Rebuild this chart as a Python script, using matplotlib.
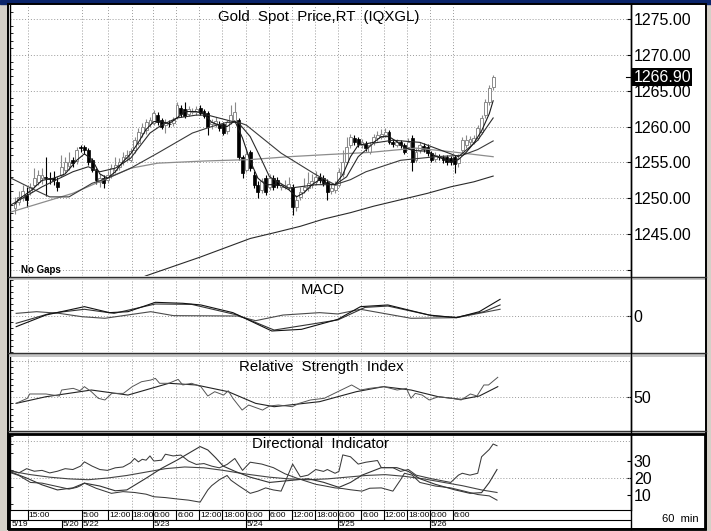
import matplotlib
matplotlib.use('Agg')
import matplotlib.pyplot as plt
from matplotlib.patches import Rectangle
from matplotlib.ticker import MultipleLocator
from matplotlib.transforms import blended_transform_factory

W, H = 711, 531

plt.rcParams['font.family'] = ['Liberation Sans', 'DejaVu Sans']
NARROW = ['Liberation Sans Narrow', 'Liberation Sans', 'DejaVu Sans']

# ---------------- hourly OHLC, Gold spot ----------------
opens = [1248.6, 1249.5, 1250.0, 1250.5, 1250.9, 1251.9, 1252.3, 1252.8, 1253.0, 1252.9,
         1252.9, 1252.3, 1253.3, 1254.0, 1254.5, 1255.3, 1255.2, 1257.2, 1257.2, 1256.7,
         1255.3, 1253.9, 1252.3, 1252.8, 1252.6, 1253.3, 1253.9, 1254.4, 1255.1, 1255.6,
         1255.4, 1256.7, 1257.7, 1259.1, 1259.5, 1260.4, 1260.5, 1261.6, 1260.9, 1260.2,
         1260.4, 1260.5, 1261.3, 1262.6, 1262.4, 1261.8, 1262.0, 1262.0, 1262.6, 1262.2,
         1261.9, 1260.4, 1260.4, 1260.4, 1260.3, 1259.4, 1260.6, 1260.8, 1260.9, 1255.8,
         1254.0, 1256.5, 1253.3, 1251.9, 1251.2, 1252.8, 1251.6, 1252.8, 1252.6, 1251.6,
         1251.6, 1251.6, 1251.6, 1248.8, 1250.2, 1251.2, 1251.4, 1251.8, 1252.3, 1253.0,
         1252.8, 1252.3, 1251.0, 1251.2, 1251.9, 1253.4, 1255.1, 1257.4, 1258.4, 1258.2,
         1257.4, 1257.6, 1256.5, 1257.9, 1258.4, 1258.6, 1258.8, 1259.2, 1257.9, 1257.5,
         1257.8, 1257.4, 1257.2, 1258.4, 1255.4, 1256.7, 1257.3, 1257.2, 1256.3, 1255.5,
         1255.9, 1255.7, 1255.7, 1255.6, 1255.7, 1254.9, 1256.7, 1257.4, 1257.8, 1257.9,
         1258.4, 1259.2, 1261.6, 1263.4, 1265.5]
closes = [1249.4, 1250.2, 1251.0, 1249.8, 1251.6, 1252.8, 1253.3, 1253.2, 1252.8, 1252.7,
          1252.6, 1251.6, 1254.4, 1255.0, 1255.0, 1254.9, 1256.8, 1257.0, 1256.8, 1255.0,
          1254.0, 1252.6, 1252.8, 1252.1, 1253.2, 1254.2, 1254.6, 1255.0, 1255.8, 1256.0,
          1256.6, 1258.1, 1259.2, 1260.0, 1260.6, 1260.9, 1261.9, 1260.6, 1260.0, 1260.5,
          1260.3, 1260.9, 1263.0, 1261.8, 1261.5, 1262.4, 1262.2, 1262.4, 1261.9, 1261.5,
          1260.0, 1260.7, 1260.8, 1259.8, 1259.1, 1260.6, 1261.6, 1262.0, 1255.8, 1253.5,
          1256.2, 1254.2, 1251.9, 1250.9, 1252.4, 1250.9, 1252.8, 1251.6, 1251.8, 1251.8,
          1251.9, 1252.0, 1248.8, 1249.8, 1250.9, 1251.6, 1252.1, 1252.4, 1253.0, 1252.6,
          1252.1, 1250.9, 1251.5, 1251.9, 1253.7, 1255.1, 1257.2, 1258.5, 1257.9, 1257.6,
          1257.8, 1257.0, 1257.4, 1258.6, 1258.8, 1259.0, 1259.3, 1257.9, 1257.6, 1257.9,
          1257.4, 1256.5, 1257.9, 1255.0, 1256.5, 1257.5, 1256.9, 1256.3, 1255.4, 1256.0,
          1255.7, 1255.3, 1255.0, 1255.1, 1254.8, 1255.6, 1258.1, 1258.1, 1258.3, 1258.4,
          1259.8, 1261.2, 1263.4, 1265.4, 1266.9]
highs = [1250.2, 1251.0, 1251.9, 1251.6, 1252.2, 1254.2, 1254.0, 1254.2, 1255.8, 1253.6,
         1253.8, 1253.0, 1256.0, 1255.8, 1256.5, 1255.8, 1257.2, 1257.4, 1257.5, 1257.0,
         1255.6, 1254.2, 1253.4, 1253.2, 1253.8, 1254.8, 1255.8, 1255.6, 1256.5, 1256.8,
         1257.0, 1258.5, 1259.8, 1260.5, 1261.0, 1261.4, 1262.3, 1262.0, 1261.2, 1261.0,
         1260.9, 1261.4, 1263.4, 1263.0, 1263.4, 1262.8, 1262.6, 1262.8, 1263.0, 1262.5,
         1262.2, 1261.0, 1261.3, 1260.8, 1260.6, 1260.9, 1263.0, 1263.4, 1261.2, 1256.0,
         1257.0, 1256.8, 1253.8, 1252.4, 1252.9, 1253.2, 1253.4, 1253.3, 1253.0, 1252.2,
         1252.6, 1253.0, 1252.0, 1250.4, 1251.6, 1252.8, 1253.6, 1253.4, 1253.8, 1253.5,
         1253.2, 1252.7, 1252.0, 1252.4, 1254.2, 1256.8, 1258.6, 1259.0, 1258.8, 1258.6,
         1258.2, 1258.0, 1257.8, 1259.0, 1259.4, 1259.6, 1259.8, 1259.5, 1258.2, 1258.3,
         1258.1, 1257.7, 1258.4, 1258.8, 1257.0, 1257.9, 1257.7, 1257.6, 1256.6, 1256.4,
         1256.2, 1256.0, 1256.0, 1255.9, 1256.0, 1256.2, 1258.5, 1258.8, 1258.7, 1258.8,
         1260.2, 1261.6, 1263.8, 1265.8, 1267.2]
lows = [1247.8, 1249.0, 1249.6, 1248.8, 1250.4, 1251.4, 1251.8, 1252.0, 1250.3, 1252.0,
        1251.9, 1251.0, 1253.0, 1253.5, 1254.0, 1254.4, 1254.8, 1256.4, 1256.2, 1254.6,
        1253.6, 1252.0, 1251.6, 1251.5, 1252.2, 1252.9, 1253.5, 1254.0, 1254.7, 1255.2,
        1255.0, 1256.3, 1257.4, 1258.6, 1259.0, 1260.0, 1260.2, 1260.2, 1259.6, 1259.1,
        1259.9, 1260.1, 1261.0, 1261.4, 1261.2, 1261.5, 1261.8, 1261.6, 1261.6, 1261.2,
        1258.8, 1259.6, 1259.9, 1259.4, 1258.8, 1259.0, 1260.3, 1260.5, 1255.4, 1252.8,
        1253.6, 1253.8, 1251.4, 1250.0, 1250.8, 1250.5, 1251.2, 1251.2, 1251.4, 1251.2,
        1251.3, 1251.2, 1247.7, 1248.2, 1249.8, 1250.8, 1251.0, 1251.4, 1251.9, 1252.2,
        1251.7, 1249.8, 1250.6, 1250.8, 1251.6, 1253.0, 1254.8, 1257.0, 1257.4, 1257.2,
        1257.0, 1256.6, 1256.2, 1257.5, 1258.0, 1258.2, 1258.5, 1257.6, 1257.2, 1257.2,
        1257.0, 1256.2, 1256.9, 1253.8, 1255.0, 1256.3, 1256.5, 1255.9, 1255.0, 1255.1,
        1255.3, 1254.9, 1254.7, 1254.6, 1253.5, 1254.4, 1256.3, 1257.0, 1257.5, 1257.6,
        1258.1, 1258.9, 1261.2, 1263.0, 1265.1]

# moving averages (bar index, price)
ma1_pos = [0, 1, 4, 7, 10, 13, 16, 18, 20, 22, 24, 26, 28, 30, 32, 34, 36, 38, 40, 42,
           44, 47, 49, 51, 53, 55, 57, 59, 61, 63, 65, 67, 69, 71, 73, 75, 77, 79, 81, 83,
           85, 87, 89, 91, 93, 95, 97, 99, 101, 103, 105, 107, 109, 111, 113, 115, 117, 119, 121, 123, 124]
ma1_val = [1249.2, 1249.9, 1251.0, 1252.5, 1252.8, 1253.4, 1255.3, 1256.2, 1255.4, 1253.4,
           1252.8, 1253.7, 1255.1, 1256.2, 1257.8, 1259.6, 1260.7, 1260.7, 1260.4, 1261.2,
           1262.1, 1262.1, 1261.8, 1260.6, 1260.2, 1260.0, 1260.8, 1258.4, 1255.2, 1252.8,
           1251.9, 1251.9, 1251.8, 1251.2, 1250.2, 1250.8, 1251.9, 1252.6, 1252.0, 1251.9,
           1253.3, 1255.8, 1257.4, 1257.6, 1257.8, 1258.6, 1258.6, 1257.9, 1257.1, 1256.7,
           1256.6, 1256.6, 1255.9, 1255.5, 1255.1, 1255.4, 1256.4, 1257.7, 1259.4, 1261.8, 1263.6]
ma2_pos = [-1, 7, 15, 19, 22, 26, 30, 35, 38, 42, 47, 50, 55, 58, 61, 64, 66, 71, 78, 83,
           86, 89, 93, 98, 105, 109, 115, 120, 124]
ma2_val = [1249.1, 1251.6, 1253.7, 1254.4, 1253.7, 1254.2, 1255.6, 1259.1, 1260.2, 1261.2,
           1261.6, 1261.6, 1260.9, 1260.5, 1258.6, 1255.3, 1253.0, 1251.4, 1251.9, 1251.9,
           1253.0, 1255.8, 1257.7, 1258.1, 1257.8, 1257.0, 1255.8, 1258.1, 1261.2]
ma3_pos = [-1, 5, 9, 14, 20, 24, 30, 37, 46, 51, 55, 58, 60, 69, 78, 83, 87, 91, 100, 109,
           116, 120, 124]
ma3_val = [1252.8, 1251.2, 1250.2, 1250.2, 1252.1, 1252.8, 1254.2, 1256.3, 1259.1, 1260.0,
           1260.6, 1260.6, 1260.2, 1256.3, 1253.3, 1251.9, 1252.6, 1253.7, 1255.3, 1255.8,
           1256.0, 1256.8, 1258.0]
ma4_pos = [-1, 15, 30, 37, 49, 61, 71, 81, 92, 104, 113, 124]
ma4_val = [1248.1, 1250.7, 1254.2, 1254.9, 1255.2, 1255.4, 1255.8, 1256.1, 1256.4, 1257.0,
           1256.5, 1255.8]
ma5_pos = [27, 34, 41, 48, 55, 61, 68, 74, 80, 87, 93, 100, 107, 113, 119, 124]
ma5_val = [1237.6, 1239.2, 1240.5, 1241.8, 1243.2, 1244.4, 1245.3, 1246.1, 1247.1, 1248.0,
           1248.9, 1249.8, 1250.7, 1251.6, 1252.3, 1253.1]

# MACD
macd_pos = [0.3, 8.0, 18.0, 24.5, 29.3, 36.4, 43.5, 48.2, 56.5, 66.6, 74.3, 83.7, 89.6,
            96.7, 107.4, 114.5, 120.4, 125.8]
macd_val = [-0.89, 0.08, 0.78, 0.28, 0.36, 1.14, 1.06, 0.92, 0.28, -1.25, -1.11, -0.28,
            0.78, 0.92, 0.08, -0.14, 0.36, 1.39]
signal_pos = [0.3, 9.1, 18.0, 25.7, 36.4, 45.8, 57.7, 67.2, 83.7, 90.8, 96.7, 108.6,
              114.5, 121.6, 125.8]
signal_val = [-0.61, 0.22, 0.56, 0.22, 1.0, 0.97, 0.08, -1.17, -0.33, 0.72, 0.83, 0.0,
              -0.11, 0.36, 0.92]
macd3_pos = [0.3, 5.6, 11.5, 17.4, 23.3, 35.2, 41.1, 57.7, 62.4, 69.5, 79.0, 83.7, 89.6,
             102.7, 114.5, 125.8]
macd3_val = [0.22, 0.36, 0.22, -0.06, -0.19, 0.36, 0.03, 0.0, -0.39, 0.08, 0.28, 0.17,
             0.56, -0.19, -0.14, 0.56]

# RSI
rsi_pos = [0.3, 3.2, 3.8, 8.0, 11.5, 12.1, 15.1, 16.8, 18.0, 19.8, 21.6, 23.3, 25.1, 28.1,
           30.4, 32.8, 35.2, 36.4, 37.5, 39.9, 42.3, 43.5, 45.8, 48.2, 50.0, 51.8, 54.1, 55.3,
           56.5, 58.9, 60.6, 64.2, 66.0, 68.3, 71.9, 73.7, 76.6, 80.2, 83.7, 87.3, 89.6, 92.0,
           95.6, 99.1, 101.5, 102.7, 103.8, 105.6, 107.4, 109.8, 113.3, 115.7, 118.1, 119.8,
           121.6, 122.8, 125.2]
rsi_val = [44.7, 48.9, 52.5, 52.5, 50.8, 55.8, 57.2, 55.2, 58.6, 54.4, 48.9, 47.5, 53.0,
           53.0, 58.6, 62.7, 64.1, 65.5, 61.4, 61.4, 64.7, 60.0, 61.4, 58.6, 50.8, 54.4, 51.6,
           55.2, 48.9, 39.1, 43.3, 39.1, 42.5, 43.3, 41.9, 44.7, 47.5, 48.9, 54.4, 60.0, 55.8,
           57.2, 58.6, 55.8, 57.2, 48.9, 53.0, 51.6, 47.5, 50.2, 48.9, 47.5, 52.5, 50.8, 60.0,
           60.0, 66.4]
rsi_ma_pos = [0.3, 8.0, 19.8, 29.3, 39.9, 47.0, 55.3, 62.4, 67.2, 79.0, 88.5, 95.6, 102.7,
              109.8, 115.7, 120.4, 125.2]
rsi_ma_val = [44.7, 50.2, 55.8, 51.6, 61.4, 60.0, 54.4, 44.7, 41.9, 46.1, 54.4, 58.6, 55.8,
              50.2, 48.0, 50.8, 58.6]

# Directional indicator
dia_pos = [-1, 1, 3, 5, 7, 9, 11, 13, 15, 17, 18, 20, 22, 24, 26, 28, 30, 31, 32, 33,
           34, 35, 36, 38, 39, 41, 43, 45, 47, 49, 51, 53, 55, 57, 58, 59, 61, 64, 67, 70,
           73, 75, 78, 80, 83, 85, 87, 90, 92, 95, 98, 100, 101, 103, 105, 109, 113, 117, 120, 123, 125]
dia_val = [24.5, 23, 25.5, 24, 24.5, 23, 24, 25.5, 25, 27, 29.5, 27, 25, 24.5, 26, 26.5,
           29, 31.5, 29.5, 31, 30.5, 33, 30, 30.5, 34, 33, 33.5, 30, 28, 28.5, 27, 26, 28,
           31.5, 28, 24.5, 29.3, 28.2, 26.1, 22.5, 20, 18.5, 16.3, 15.5, 14.2, 13.8, 13.1,
           12.3, 14, 14.2, 12.3, 19, 22.8, 21.7, 17.4, 15.3, 14.2, 12, 10.3, 9.5, 7]
dib_pos = [-1, 1, 4, 7, 10, 12, 14, 16, 17, 18, 21, 25, 28, 31, 34, 36, 39, 42, 45, 48,
           50, 51, 53, 55, 56, 58, 61, 63, 65, 67, 69, 70, 72, 74, 76, 78, 80, 81, 83, 84,
           85, 87, 89, 91, 94, 95, 98, 100, 102, 104, 108, 113, 115, 116, 118, 120, 121, 123, 124, 125]
dib_val = [23, 21.5, 17.4, 17, 15.5, 14.5, 13.5, 14.5, 15.5, 17, 14, 11, 12, 11.5, 10.5,
           9, 8.5, 7.7, 7, 5.8, 13, 15.5, 19, 21.5, 18.7, 15.5, 11, 12.3, 14.2, 13, 12.3,
           17.4, 28.2, 20.7, 21.7, 25, 23.9, 25, 22.8, 23.9, 33.6, 32.5, 28.2, 29.3, 30.3,
           26.1, 26.1, 23.9, 25, 21.7, 19.6, 17.4, 21.7, 22.8, 21.7, 22.8, 32.5, 36.8, 40, 39]
adx_pos = [-1, 3, 7, 11, 15, 18, 22, 26, 29, 34, 38, 42, 45, 48, 50, 52, 54, 57, 61, 66,
           71, 76, 80, 84, 87, 90, 95, 99, 102, 105, 109, 114, 118, 121, 123, 125]
adx_val = [23.5, 20, 16, 13, 14.2, 17, 15.3, 12.5, 13, 19.9, 25.7, 30.5, 34.5, 38.5, 36.5,
           32, 27, 24, 20.5, 17.4, 18.5, 19.6, 17.5, 14.5, 17.4, 21.7, 26.1, 26.1, 23.9,
           19.6, 16.3, 13.1, 11, 11.4, 17.4, 25]
adxr_pos = [-1, 4, 9, 14, 19, 24, 29, 34, 39, 44, 49, 54, 58, 61, 66, 71, 76, 81, 86, 91,
            96, 101, 106, 111, 116, 121, 125]
adxr_val = [24, 22, 20.5, 19.5, 19, 20, 21.5, 23.5, 25.5, 26.5, 26, 24.5, 23, 22, 20.5,
            19.5, 19, 19.5, 20.5, 21.5, 22, 21, 19.5, 17.5, 15.5, 13, 11.5]

# time axis
time_pos = [3.3, 17.3, 24.1, 30.3, 35.8, 41.8, 47.8, 53.8, 59.8, 65.8, 71.8, 77.8, 83.8,
            89.8, 95.6, 101.7, 107.6, 113.6]
time_labels = ['15:00', '5:00', '12:00', '18:00', '0:00', '6:00', '12:00', '18:00', '0:00',
               '6:00', '12:00', '18:00', '0:00', '6:00', '12:00', '18:00', '0:00', '6:00']
date_pos = [-1.0, 12.2, 17.3, 35.8, 59.8, 83.8, 107.6]
date_labels = ['5/19', '5/20', '5/22', '5/23', '5/24', '5/25', '5/26']

price_ticks = [1240, 1245, 1250, 1255, 1260, 1265, 1270, 1275]
last_price = 1266.90

XLIM = (-1.3, 159.75)
GRID = dict(color='#9a9a9a', linestyle=(0, (1, 2)), linewidth=0.7)


def px_rect(x0, y0, x1, y1):
	return [x0 / W, 1 - y1 / H, (x1 - x0) / W, (y1 - y0) / H]


def setup(ax, ylim):
	ax.set_xlim(*XLIM)
	ax.set_ylim(*ylim)
	ax.patch.set_visible(False)
	for s in ('top', 'bottom'):
		ax.spines[s].set_visible(False)
	for s in ('left', 'right'):
		ax.spines[s].set_color('black')
		ax.spines[s].set_linewidth(1.0)
	ax.set_xticks(time_pos)
	ax.tick_params(axis='x', length=0, labelbottom=False)
	ax.grid(True, axis='x', **GRID)
	ax.yaxis.tick_right()
	ax.tick_params(axis='y', which='major', direction='in', length=3, pad=2,
	               labelsize=11.5, colors='black')
	ax.tick_params(axis='y', which='minor', left=True, right=False, direction='in', length=2)


fig = plt.figure(figsize=(W / 100, H / 100), dpi=100, facecolor='#d4d0c8')

bg = fig.add_axes([0, 0, 1, 1], zorder=0)
bg.set_xlim(0, W)
bg.set_ylim(H, 0)
bg.axis('off')
bg.add_patch(Rectangle((0, 0), W, 4, color='#0a246a'))
bg.add_patch(Rectangle((8, 4), 698, 525, facecolor='white', edgecolor='none'))

# ---------------- price panel ----------------
ax_p = fig.add_axes(px_rect(10, 5, 631, 276), zorder=2)
setup(ax_p, (1239.17, 1276.95))
ax_p.set_yticks(price_ticks)
ax_p.set_yticklabels([''] + ['%.2f' % v for v in price_ticks[1:]])
ax_p.yaxis.set_minor_locator(MultipleLocator(1))
ax_p.grid(True, axis='y', **GRID)

idx = list(range(len(closes)))
up = [i for i in idx if closes[i] >= opens[i]]
dn = [i for i in idx if closes[i] < opens[i]]
ax_p.vlines(up, [lows[i] for i in up], [highs[i] for i in up], color='#8a8a8a', lw=0.8, zorder=3)
ax_p.vlines(dn, [lows[i] for i in dn], [highs[i] for i in dn], color='black', lw=0.8, zorder=3)
ax_p.bar(up, [closes[i] - opens[i] for i in up], bottom=[opens[i] for i in up], width=0.75,
         facecolor='white', edgecolor='#8a8a8a', linewidth=0.7, zorder=4)
ax_p.bar(dn, [opens[i] - closes[i] for i in dn], bottom=[closes[i] for i in dn], width=0.75,
         facecolor='black', edgecolor='black', linewidth=0.5, zorder=4)

ax_p.plot(ma5_pos, ma5_val, color='#2a2a2a', lw=0.8, zorder=5)
ax_p.plot(ma4_pos, ma4_val, color='#8c8c8c', lw=0.9, zorder=5)
ax_p.plot(ma3_pos, ma3_val, color='#3a3a3a', lw=0.8, zorder=5)
ax_p.plot(ma2_pos, ma2_val, color='#2a2a2a', lw=0.8, zorder=5)
ax_p.plot(ma1_pos, ma1_val, color='#1a1a1a', lw=0.8, zorder=5)

tr = blended_transform_factory(ax_p.transAxes, ax_p.transData)
ax_p.text(1.004, last_price, '%.2f' % last_price, transform=tr, ha='left', va='center',
          color='white', fontsize=11.5, zorder=20,
          bbox=dict(boxstyle='square,pad=0.08', fc='black', ec='none'))
ax_p.plot([0.992, 1.0], [last_price, last_price], transform=tr, color='black', lw=0.8,
          clip_on=False)

# ---------------- MACD ----------------
ax_m = fig.add_axes(px_rect(10, 280, 631, 352), zorder=2)
setup(ax_m, (-3.0, 3.0))
ax_m.set_yticks([0])
ax_m.set_yticklabels(['0'])
ax_m.yaxis.set_minor_locator(MultipleLocator(0.5))
ax_m.axhline(0, **GRID)
ax_m.plot(macd3_pos, macd3_val, color='#4a4a4a', lw=0.8)
ax_m.plot(signal_pos, signal_val, color='#333333', lw=0.8)
ax_m.plot(macd_pos, macd_val, color='#111111', lw=0.8)

# ---------------- RSI ----------------
ax_r = fig.add_axes(px_rect(10, 357, 631, 430), zorder=2)
setup(ax_r, (22.5, 83.3))
ax_r.set_yticks([50])
ax_r.set_yticklabels(['50'])
ax_r.yaxis.set_minor_locator(MultipleLocator(5))
ax_r.axhline(50, **GRID)
ax_r.axhline(80, **GRID)
ax_r.plot(rsi_ma_pos, rsi_ma_val, color='#222222', lw=0.8)
ax_r.plot(rsi_pos, rsi_val, color='#555555', lw=0.7)

# ---------------- Directional Indicator ----------------
ax_d = fig.add_axes(px_rect(10, 435, 631, 510), zorder=2)
setup(ax_d, (1.2, 45.3))
ax_d.spines['bottom'].set_visible(True)
ax_d.spines['bottom'].set_color('black')
ax_d.set_yticks([10, 20, 30])
ax_d.set_yticklabels(['10', '20', '30'])
ax_d.yaxis.set_minor_locator(MultipleLocator(5))
ax_d.axhline(20, **GRID)
ax_d.axhline(42, **GRID)
ax_d.plot(adxr_pos, adxr_val, color='#444444', lw=0.8)
ax_d.plot(adx_pos, adx_val, color='#333333', lw=0.8)
ax_d.plot(dia_pos, dia_val, color='#3a3a3a', lw=0.75)
ax_d.plot(dib_pos, dib_val, color='#3a3a3a', lw=0.75)

# ---------------- time axis ----------------
ax_t = fig.add_axes(px_rect(10, 510, 631, 529), zorder=2)
ax_t.set_xlim(*XLIM)
ax_t.set_ylim(0, 2)
ax_t.axis('off')
ax_t.axhline(1, color='black', lw=0.8)
ax_t.vlines(time_pos, 1, 2, color='black', lw=0.8)
ax_t.vlines(date_pos[1:], 0, 1, color='black', lw=0.8)
for p, lab in zip(time_pos, time_labels):
	ax_t.text(p + 0.25, 1.45, lab, ha='left', va='center', fontsize=6.1, family=NARROW)
for p, lab in zip(date_pos, date_labels):
	ax_t.text(p + 0.25, 0.45, lab, ha='left', va='center', fontsize=6.1, family=NARROW)

# ---------------- frames, separators, titles ----------------
fg = fig.add_axes([0, 0, 1, 1], zorder=10)
fg.set_xlim(0, W)
fg.set_ylim(H, 0)
fg.axis('off')
fg.patch.set_visible(False)

for y0, y1 in ((276.5, 280), (352.5, 357), (430.5, 434)):
	fg.add_patch(Rectangle((8, y0), 698, y1 - y0, facecolor='#c4c4c4', edgecolor='none'))
	fg.plot([8, 706], [y0, y0], color='#303030', lw=1.0)
fg.plot([631, 631], [4, 529], color='black', lw=1.0)
fg.add_patch(Rectangle((8, 4), 698, 525, fill=False, edgecolor='black', lw=1.4))
fg.add_patch(Rectangle((8.8, 434), 696.4, 94.5, fill=False, edgecolor='black', lw=2.0))

fg.text(319, 20.5, 'Gold  Spot  Price,RT  (IQXGL)', ha='center', va='baseline', fontsize=10.8)
fg.text(323, 294, 'MACD', ha='center', va='baseline', fontsize=10.8)
fg.text(321, 371, 'Relative  Strength  Index', ha='center', va='baseline', fontsize=10.8)
fg.text(320, 448, 'Directional  Indicator', ha='center', va='baseline', fontsize=10.8)
fg.text(21, 273, 'No Gaps', ha='left', va='baseline', fontsize=7, fontweight='bold',
        family=NARROW)
fg.text(662, 522.5, '60  min', ha='left', va='baseline', fontsize=8)

fig.savefig('out.png', dpi=100, facecolor=fig.get_facecolor())
